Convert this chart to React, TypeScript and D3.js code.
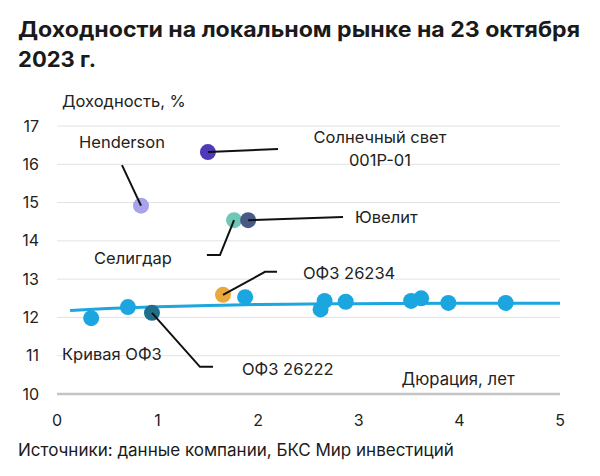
import React from 'react';
import * as d3 from 'd3';

const W = 600;
const H = 476;

const yTicks = [10, 11, 12, 13, 14, 15, 16, 17];
const xTicks = [0, 1, 2, 3, 4, 5];

// кривая ОФЗ (дюрация, доходность)
const curveDur = [0.13, 0.5, 1, 1.5, 2, 2.5, 3, 4, 5];
const curveYld = [12.18, 12.23, 12.28, 12.31, 12.34, 12.35, 12.36, 12.37, 12.37];

// облигации ОФЗ на кривой
const ofzDur = [0.34, 0.705, 1.87, 2.62, 2.66, 2.87, 3.52, 3.62, 3.89, 4.46];
const ofzYld = [11.98, 12.27, 12.53, 12.21, 12.43, 12.41, 12.43, 12.5, 12.38, 12.38];

// выделенные выпуски
const bondNames = ['Henderson', 'Солнечный свет', 'Селигдар', 'Ювелит', 'ОФЗ 26234', 'ОФЗ 26222'];
const bondDur = [0.835, 1.5, 1.76, 1.9, 1.65, 0.944];
const bondYld = [14.92, 16.32, 14.54, 14.54, 12.59, 12.12];
const bondColors = ['#a9a4ea', '#4e3bb8', '#6fc7b5', '#4a5a86', '#e9a83a', '#1f6f8c'];

// выноски: изломы линии в координатах графика
const leaderPts: [number, number][][] = [
  [[0.646, 15.98]],
  [[2.197, 16.4]],
  [[1.62, 13.63], [1.49, 13.63]],
  [[2.843, 14.62]],
  [[2.068, 13.19], [2.187, 13.19]],
  [[1.421, 10.71], [1.551, 10.71]],
];

const labelText = ['Henderson', 'Солнечный свет', '001P-01', 'Селигдар', 'Ювелит', 'ОФЗ 26234', 'ОФЗ 26222', 'Кривая ОФЗ'];
const labelX = [0.646, 3.21, 3.21, 0.755, 2.962, 2.445, 1.839, 0.05];
const labelY = [16.58, 16.71, 16.11, 13.55, 14.62, 13.16, 10.65, 11.04];
const labelAnchor = ['middle', 'middle', 'middle', 'middle', 'start', 'start', 'start', 'start'];

const font = 'Inter, "Liberation Sans", Arial, sans-serif';

export default function App() {
  const x = d3.scaleLinear().domain([0, 5]).range([57, 560]);
  const y = d3.scaleLinear().domain([10, 17]).range([394, 126]);

  const curve = d3
    .line<number>()
    .x((d) => x(d))
    .y((_, i) => y(curveYld[i]))
    .curve(d3.curveMonotoneX);

  const leader = d3.line<[number, number]>().x((d) => x(d[0])).y((d) => y(d[1]));

  return (
    <svg width={W} height={H} style={{ position: 'absolute', left: 0, top: 0, background: '#fff' }} fontFamily={font}>
      <text x={18} y={37} fontSize={21.5} fontWeight="bold" fill="#1a1a1a" textLength={562} lengthAdjust="spacingAndGlyphs">
        Доходности на локальном рынке на 23 октября
      </text>
      <text x={18} y={67} fontSize={21.5} fontWeight="bold" fill="#1a1a1a" textLength={78} lengthAdjust="spacingAndGlyphs">
        2023 г.
      </text>

      <text x={62} y={107} fontSize={16.5} fill="#222">Доходность, %</text>

      {yTicks.map((t) => (
        <g key={t}>
          <line
            x1={x(0)}
            x2={x(5)}
            y1={y(t)}
            y2={y(t)}
            stroke={t === 10 ? '#c4c4c4' : '#e2e2e2'}
            strokeWidth={t === 10 ? 2.5 : 1}
          />
          <text x={39} y={y(t)} dy="0.35em" textAnchor="end" fontSize={16} fill="#222">
            {t}
          </text>
        </g>
      ))}
      {xTicks.map((t) => (
        <text key={t} x={x(t)} y={420} dy="0.35em" textAnchor="middle" fontSize={16} fill="#222">
          {t}
        </text>
      ))}

      <text x={x(4.55)} y={379} dy="0.35em" textAnchor="end" fontSize={16.7} fill="#222">
        Дюрация, лет
      </text>

      <path d={curve(curveDur) ?? ''} fill="none" stroke="#1ea6de" strokeWidth={3} />

      {ofzDur.map((d, i) => (
        <circle key={i} cx={x(d)} cy={y(ofzYld[i])} r={8} fill="#1ba6e0" />
      ))}
      {bondNames.map((n, i) => (
        <circle key={n} cx={x(bondDur[i])} cy={y(bondYld[i])} r={8} fill={bondColors[i]} />
      ))}

      {bondNames.map((n, i) => (
        <path
          key={n}
          d={leader([[bondDur[i], bondYld[i]], ...leaderPts[i]]) ?? ''}
          fill="none"
          stroke="#111"
          strokeWidth={2}
        />
      ))}

      {labelText.map((t, i) => (
        <text
          key={t}
          x={x(labelX[i])}
          y={y(labelY[i])}
          dy="0.35em"
          textAnchor={labelAnchor[i] as any}
          fontSize={16.5}
          fill="#222"
        >
          {t}
        </text>
      ))}

      <text x={18} y={450} dy="0.35em" fontSize={17} fill="#1a1a1a">
        Источники: данные компании, БКС Мир инвестиций
      </text>
    </svg>
  );
}
